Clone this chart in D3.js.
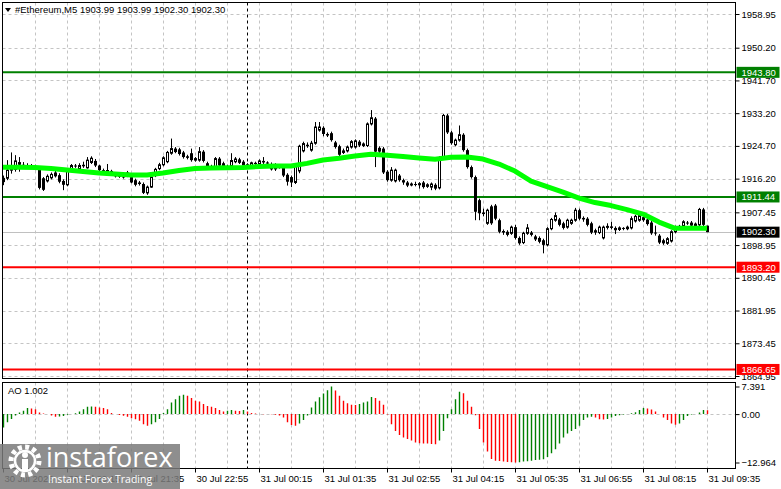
<!DOCTYPE html>
<html>
<head>
<meta charset="utf-8">
<script src="https://cdn.jsdelivr.net/npm/d3@7"></script>
<style>
  body { margin: 0; background: #fff; }
  svg { display: block; font-family: Tahoma, "Liberation Sans", Arial, sans-serif; }
</style>
</head>
<body>
<svg id="chart" width="781" height="489"></svg>
<script>
// #Ethereum M5, 177 bars, 30 Jul 18:55 .. 31 Jul 09:35

const opens = [
  1916.4,1916.3,1918.4,1918.6,1920.5,1919.8,1919.4,1919.6,1919.2,1918.6,
  1916.3,1915.6,1916.4,1917.8,1917.1,1915.6,1914.6,1918.8,1919.6,1918.6,
  1919.8,1919.0,1920.4,1920.8,1919.6,1918.4,1918.0,1918.2,1917.5,1916.8,
  1917.5,1917.8,1916.6,1915.8,1915.2,1914.8,1912.5,1914.0,1917.0,1918.8,
  1919.8,1920.6,1922.8,1924.0,1923.8,1923.0,1922.0,1922.8,1921.0,1921.0,
  1923.2,1920.2,1919.2,1919.2,1921.4,1920.2,1919.0,1919.6,1920.6,1921.2,
  1920.6,1919.6,1919.6,1920.3,1920.0,1920.8,1920.4,1920.0,1919.8,1919.2,
  1919.0,1917.2,1916.6,1915.2,1918.2,1923.4,1925.0,1923.6,1925.4,1928.8,
  1929.4,1927.8,1928.0,1925.6,1924.6,1923.0,1923.4,1924.4,1924.4,1925.8,
  1924.8,1924.8,1930.4,1931.8,1924.2,1924.0,1918.0,1915.8,1915.6,1917.0,
  1915.8,1915.2,1914.6,1914.8,1914.6,1915.2,1914.2,1914.0,1914.6,1913.8,
  1921.6,1932.6,1928.2,1925.0,1926.2,1927.6,1923.6,1919.2,1916.6,1910.6,
  1907.4,1904.6,1909.0,1909.2,1905.4,1902.6,1902.4,1902.0,1903.6,1900.8,
  1899.6,1902.0,1902.2,1901.2,1900.8,1900.2,1899.0,1903.2,1905.4,1905.6,
  1904.6,1903.6,1904.6,1905.4,1908.0,1906.0,1905.8,1904.6,1902.8,1902.2,
  1900.8,1903.6,1903.8,1903.4,1903.0,1903.4,1903.2,1903.4,1905.2,1905.4,
  1906.2,1905.6,1904.8,1902.2,1901.4,1900.2,1899.4,1900.0,1902.4,1903.6,
  1904.0,1904.8,1904.8,1903.8,1904.2,1908.2,1903.99
];
const highs = [
  1917.0,1921.0,1923.0,1922.3,1921.8,1920.5,1920.2,1920.0,1919.8,1918.8,
  1916.6,1917.3,1917.8,1918.2,1917.6,1916.0,1918.8,1920.0,1920.0,1920.2,
  1920.6,1921.8,1922.0,1921.3,1919.8,1918.8,1920.0,1918.5,1917.8,1917.6,
  1917.9,1918.2,1917.0,1916.2,1915.6,1915.2,1914.4,1917.0,1919.0,1920.3,
  1922.0,1923.4,1926.6,1924.4,1924.2,1923.4,1922.4,1924.0,1921.8,1924.4,
  1923.6,1920.6,1919.8,1921.8,1921.8,1920.6,1919.8,1922.8,1921.8,1921.6,
  1921.0,1920.2,1920.6,1920.6,1921.2,1921.8,1920.7,1920.4,1920.2,1920.0,
  1919.4,1917.6,1917.0,1920.0,1925.0,1925.8,1925.6,1926.0,1930.9,1930.9,
  1929.8,1928.2,1928.4,1926.0,1925.0,1924.0,1924.8,1926.2,1926.4,1926.2,
  1925.6,1930.8,1934.0,1932.2,1924.6,1924.4,1918.4,1919.2,1918.8,1917.4,
  1916.2,1915.6,1915.2,1915.4,1915.3,1915.6,1915.0,1915.2,1915.0,1922.0,
  1933.0,1933.0,1928.6,1926.6,1930.0,1928.0,1924.0,1919.6,1917.0,1911.0,
  1908.4,1908.4,1909.4,1909.6,1905.8,1903.0,1902.8,1904.0,1904.2,1901.2,
  1902.4,1904.4,1902.6,1901.6,1901.2,1900.6,1903.6,1906.0,1907.4,1906.0,
  1905.0,1905.8,1905.8,1908.6,1908.4,1906.4,1906.2,1905.0,1903.2,1904.0,
  1904.0,1904.6,1905.0,1903.8,1903.8,1903.6,1904.0,1906.4,1906.8,1907.0,
  1906.6,1906.0,1905.2,1904.0,1901.8,1900.6,1901.0,1902.8,1904.0,1904.2,
  1905.4,1905.2,1905.2,1904.8,1908.6,1908.6,1903.99
];
const lows = [
  1914.5,1915.8,1917.5,1918.0,1918.0,1919.0,1918.9,1918.7,1918.4,1913.4,
  1913.0,1915.2,1916.0,1916.5,1915.0,1913.2,1914.2,1918.4,1919.0,1918.3,
  1919.0,1918.8,1920.0,1919.2,1918.2,1917.6,1917.8,1917.5,1916.5,1916.4,
  1916.2,1916.6,1915.0,1914.2,1914.4,1912.2,1912.0,1913.8,1916.6,1918.4,
  1919.4,1920.2,1922.4,1922.8,1922.2,1921.4,1921.2,1920.6,1920.6,1920.6,
  1920.4,1918.8,1918.6,1918.8,1919.2,1918.6,1918.6,1919.2,1920.2,1920.0,
  1919.2,1919.2,1919.3,1919.6,1919.8,1920.0,1919.8,1918.3,1918.2,1918.8,
  1916.6,1914.4,1914.0,1914.8,1917.6,1923.0,1924.2,1923.2,1925.0,1928.4,
  1927.2,1927.0,1925.8,1924.0,1922.0,1922.6,1923.0,1924.0,1924.0,1924.4,
  1924.4,1924.4,1930.0,1919.2,1922.8,1917.4,1915.4,1915.4,1915.2,1915.4,
  1914.6,1914.0,1914.2,1914.2,1913.6,1913.6,1913.8,1913.2,1913.2,1913.4,
  1921.2,1927.8,1925.0,1924.6,1925.8,1923.2,1918.8,1916.2,1905.4,1905.4,
  1906.4,1904.2,1904.2,1905.4,1902.0,1901.6,1901.2,1901.6,1900.4,1899.0,
  1899.2,1901.6,1901.2,1900.0,1899.4,1896.8,1898.6,1902.8,1905.0,1903.8,
  1903.0,1903.2,1904.2,1905.0,1905.4,1905.0,1903.8,1901.8,1901.6,1901.8,
  1900.4,1903.0,1903.0,1901.8,1902.6,1902.8,1902.8,1903.0,1904.8,1905.0,
  1905.0,1904.0,1901.6,1901.4,1899.2,1899.0,1899.0,1899.6,1902.0,1903.2,
  1903.6,1904.2,1903.6,1903.4,1903.8,1903.8,1902.30
];
const closes = [
  1915.3,1918.4,1919.5,1920.8,1919.8,1919.4,1919.6,1919.2,1918.9,1913.8,
  1913.3,1916.8,1917.3,1916.8,1915.4,1914.6,1918.4,1919.6,1919.4,1919.6,
  1919.4,1921.0,1921.5,1919.6,1918.4,1918.0,1918.3,1917.8,1916.8,1917.2,
  1916.5,1917.0,1915.2,1914.6,1914.8,1912.5,1914.0,1916.6,1918.6,1919.8,
  1921.6,1923.0,1924.0,1923.1,1922.6,1921.8,1921.6,1921.0,1921.4,1923.2,
  1920.8,1919.2,1919.0,1921.4,1919.6,1919.0,1919.3,1920.9,1921.3,1920.3,
  1919.6,1919.8,1920.3,1920.0,1920.8,1920.4,1920.1,1918.6,1918.6,1919.6,
  1917.0,1915.4,1915.2,1919.6,1924.6,1925.3,1924.6,1925.4,1929.6,1929.6,
  1927.8,1927.4,1926.2,1924.4,1922.4,1923.4,1924.4,1925.8,1926.0,1924.8,
  1925.2,1930.4,1932.0,1923.2,1923.2,1917.8,1915.8,1918.4,1918.4,1915.8,
  1915.2,1914.4,1914.8,1914.6,1914.9,1914.0,1914.6,1914.8,1913.6,1921.6,
  1932.6,1928.2,1925.4,1926.2,1927.6,1923.6,1919.2,1916.6,1907.6,1907.2,
  1907.0,1908.0,1904.6,1905.8,1902.4,1902.2,1901.6,1903.6,1900.8,1899.4,
  1902.0,1903.4,1901.6,1900.4,1899.8,1899.0,1903.2,1905.6,1906.6,1904.2,
  1903.4,1905.4,1905.4,1908.0,1905.8,1905.6,1904.2,1902.2,1902.2,1903.6,
  1903.6,1903.8,1903.4,1902.8,1903.4,1903.2,1903.6,1905.8,1906.4,1906.6,
  1905.4,1904.4,1902.0,1902.0,1899.6,1899.4,1900.6,1902.4,1903.6,1903.8,
  1905.0,1904.6,1904.0,1904.4,1908.2,1904.2,1902.30
];

// moving average, read every 4th bar
const maIndex = d3.range(0, 177, 4);
const maValues = [
  1919.13,1919.13,1919.08,1918.82,1918.43,1918.04,1917.65,1917.39,1917.13,1917.13,
  1917.65,1918.30,1918.82,1918.95,1919.03,1919.08,1919.34,1919.47,1919.47,1920.17,
  1921.03,1921.47,1922.07,1922.51,1922.25,1921.94,1921.55,1921.21,1921.73,1921.81,
  1921.29,1919.99,1918.17,1915.57,1914.14,1912.72,1911.16,1909.99,1909.21,1908.17,
  1907.00,1904.92,1903.29,1903.29,1903.29
];

// Awesome Oscillator
const aoValues = [
  -3.6,-2.2,-1.3,-0.4,0.4,0.9,1.6,1.5,1.3,0.4,
  0.15,0.05,-0.4,-0.7,-0.65,-0.5,-0.2,0.05,0.2,0.7,
  1.3,2.0,2.05,1.95,1.8,1.6,1.3,0.3,0.0,-0.25,
  -0.45,-0.7,-1.1,-1.4,-1.8,-2.7,-3.1,-2.7,-2.2,-1.3,
  0.3,1.3,3.1,4.0,4.9,5.2,4.9,4.3,3.6,3.4,
  2.7,2.2,2.0,1.6,1.1,0.7,0.9,1.1,0.9,0.85,
  1.1,0.7,0.3,0.15,0.0,-0.05,0.0,-0.05,-0.2,-0.4,
  -0.9,-2.2,-2.9,-3.1,-2.5,-1.6,-0.4,1.8,3.4,4.5,
  5.5,6.4,7.391,6.3,4.9,3.6,2.9,2.5,2.45,2.7,
  3.1,3.4,4.6,4.3,3.6,2.5,-0.1,-2.7,-4.5,-5.6,
  -6.25,-6.7,-7.1,-7.6,-7.8,-7.85,-7.9,-8.0,-8.05,-7.1,
  -4.5,-1.1,1.3,4.0,6.0,5.6,3.6,2.0,-0.3,-4.0,
  -7.6,-10.0,-12.05,-12.5,-12.55,-12.7,-12.8,-12.9,-12.964,-12.9,
  -12.7,-12.6,-12.5,-12.3,-12.2,-12.1,-11.5,-10.5,-9.4,-7.9,
  -6.3,-5.2,-4.5,-4.0,-3.1,-1.6,-0.9,-0.7,-0.9,-1.4,
  -1.45,-1.3,-0.9,-0.5,-0.3,-0.1,0.0,0.2,0.5,1.1,
  1.6,1.5,1.25,0.7,0.0,-0.9,-1.6,-2.5,-2.85,-2.5,
  -1.6,-0.5,-0.1,0.05,0.45,1.1,1.002
];

const priceTicks = [1958.95,1950.20,1941.70,1933.20,1924.70,1916.20,1907.45,1898.95,1890.45,1881.95,1873.45,1864.95];
const aoTicks = [7.391, 0.00, -12.964];
const timeIndex = [0,16,32,48,64,80,96,112,128,144,160,176];
const timeLabels = ['30 Jul 2026','30 Jul 20:15','30 Jul 21:35','30 Jul 22:55','31 Jul 00:15','31 Jul 01:35',
                    '31 Jul 02:55','31 Jul 04:15','31 Jul 05:35','31 Jul 06:55','31 Jul 08:15','31 Jul 09:35'];
const daySplitIndex = 61;
const resistance = [1943.80, 1911.44];
const support = [1893.20, 1866.65];
const bid = 1902.30;

const svg = d3.select('#chart');
const L = 2.5, R = 735.5, mainTop = 2.5, mainBot = 378.5, aoTop = 382.5, aoBot = 468.5;
const n = closes.length;

let x = d3.scaleLinear().domain([0, n - 1]).range([3, 707]);
let y = d3.scaleLinear().domain([1864.95, 1958.95]).range([376, 14]);
let yAo = d3.scaleLinear().domain([-12.964, 7.391]).range([462.5, 386.5]);
const px = i => Math.round(x(i)) + 0.5;

const defs = svg.append('defs');
defs.append('clipPath').attr('id', 'clipMain')
  .append('rect').attr('x', L).attr('y', mainTop).attr('width', R - L).attr('height', mainBot - mainTop);
defs.append('clipPath').attr('id', 'clipAo')
  .append('rect').attr('x', L).attr('y', aoTop).attr('width', R - L).attr('height', aoBot - aoTop);

// grid
const grid = svg.append('g').attr('stroke', '#c4c4c4').attr('stroke-dasharray', '3,3');
grid.selectAll('.hg').data(priceTicks).join('line')
  .attr('x1', L).attr('x2', R)
  .attr('y1', d => Math.round(y(d)) + 0.5).attr('y2', d => Math.round(y(d)) + 0.5);
const vIdx = d3.range(8, n, 8);
grid.selectAll('.vg').data(vIdx).join('line')
  .attr('x1', d => px(d)).attr('x2', d => px(d)).attr('y1', mainTop).attr('y2', mainBot);
grid.selectAll('.vga').data(vIdx).join('line')
  .attr('x1', d => px(d)).attr('x2', d => px(d)).attr('y1', aoTop).attr('y2', aoBot);
grid.append('line').attr('x1', L).attr('x2', R)
  .attr('y1', Math.round(yAo(0)) + 0.5).attr('y2', Math.round(yAo(0)) + 0.5);

// day separator
[[mainTop, mainBot], [aoTop, aoBot]].forEach(([a, b]) => {
  svg.append('line').attr('x1', px(daySplitIndex)).attr('x2', px(daySplitIndex))
    .attr('y1', a).attr('y2', b).attr('stroke', '#000').attr('stroke-dasharray', '3,3');
});

// level lines
const main = svg.append('g').attr('clip-path', 'url(#clipMain)');
main.append('line').attr('x1', L).attr('x2', R)
  .attr('y1', Math.round(y(bid)) + 0.5).attr('y2', Math.round(y(bid)) + 0.5)
  .attr('stroke', '#c0c0c0');
resistance.concat(support).forEach(v => {
  main.append('line').attr('x1', L).attr('x2', R).attr('y1', y(v)).attr('y2', y(v))
    .attr('stroke', resistance.includes(v) ? '#008000' : '#ff0000').attr('stroke-width', 2);
});

// candles
const idx = d3.range(n);
main.selectAll('.wick').data(idx).join('line')
  .attr('x1', px).attr('x2', px)
  .attr('y1', i => y(highs[i])).attr('y2', i => y(lows[i]))
  .attr('stroke', '#000');
main.selectAll('.body').data(idx).join('rect')
  .attr('x', i => px(i) - (closes[i] >= opens[i] ? 1 : 1.5))
  .attr('width', i => closes[i] >= opens[i] ? 2 : 3)
  .attr('y', i => y(Math.max(opens[i], closes[i])))
  .attr('height', i => Math.max(1, Math.abs(y(opens[i]) - y(closes[i]))))
  .attr('fill', i => closes[i] >= opens[i] ? '#fff' : '#000')
  .attr('stroke', i => closes[i] >= opens[i] ? '#000' : 'none');

// moving average
main.append('path')
  .datum(maIndex)
  .attr('fill', 'none').attr('stroke', '#00ff00').attr('stroke-width', 5)
  .attr('stroke-linejoin', 'round')
  .attr('d', d3.line().x(i => x(i)).y((i, k) => y(maValues[k])));

// AO histogram
const ao = svg.append('g').attr('clip-path', 'url(#clipAo)');
ao.selectAll('line').data(idx).join('line')
  .attr('x1', px).attr('x2', px)
  .attr('y1', yAo(0)).attr('y2', i => yAo(aoValues[i]))
  .attr('stroke', i => (i === 0 || aoValues[i] > aoValues[i - 1]) ? '#008000' : '#ff0000')
  .attr('stroke-width', 1.4);

// frames
svg.append('rect').attr('x', L).attr('y', mainTop).attr('width', R - L).attr('height', mainBot - mainTop)
  .attr('fill', 'none').attr('stroke', '#000');
svg.append('rect').attr('x', L).attr('y', aoTop).attr('width', R - L).attr('height', aoBot - aoTop)
  .attr('fill', 'none').attr('stroke', '#000');

// price axis
const fmt = d3.format('.2f');
const yAxis = svg.append('g').attr('transform', `translate(${R},0)`)
  .call(d3.axisRight(y).tickValues(priceTicks).tickFormat(fmt).tickSize(4).tickPadding(2));
const aoAxis = svg.append('g').attr('transform', `translate(${R},0)`)
  .call(d3.axisRight(yAo).tickValues(aoTicks).tickFormat(d => d === 0 ? '0.00' : d3.format('.3f')(d)).tickSize(4).tickPadding(2));
const xAxis = svg.append('g').attr('transform', `translate(0,${aoBot})`)
  .call(d3.axisBottom(x).tickValues(timeIndex).tickFormat((d, k) => timeLabels[k]).tickSize(4).tickPadding(3));
[yAxis, aoAxis, xAxis].forEach(g => {
  g.select('.domain').remove();
  g.selectAll('text').attr('fill', '#000').style('font-size', '9.5px')
    .style('font-family', 'Tahoma, "Liberation Sans", Arial, sans-serif');
  g.selectAll('line').attr('stroke', '#000');
});
xAxis.selectAll('.tick').attr('transform', d => `translate(${px(d)},0)`);
xAxis.selectAll('text').attr('text-anchor', 'start').attr('x', 1);

// level tags on the price axis
function tag(v, bg) {
  const g = svg.append('g').attr('transform', `translate(${R + 1},${y(v)})`);
  g.append('rect').attr('x', 0).attr('y', -5.5).attr('width', 43).attr('height', 11).attr('fill', bg);
  g.append('text').attr('x', 5).attr('dy', '0.35em').attr('fill', '#fff')
    .style('font-size', '9.5px').text(fmt(v));
}
resistance.forEach(v => tag(v, '#008000'));
support.forEach(v => tag(v, '#ff0000'));
tag(bid, '#000');

// titles
svg.append('path').attr('d', 'M5,8 L11,8 L8,12 Z').attr('fill', '#000');
svg.append('text').attr('x', 15).attr('y', 13).style('font-size', '9.5px')
  .text('#Ethereum,M5  1903.99 1903.99 1902.30 1902.30');
svg.append('text').attr('x', 8).attr('y', 394).style('font-size', '9.5px').text('AO 1.002');

// watermark
const wm = svg.append('g');
wm.append('rect').attr('x', 0).attr('y', 444).attr('width', 180).attr('height', 45)
  .attr('fill', '#7a7a7a').attr('opacity', 0.85);
wm.append('circle').attr('cx', 25).attr('cy', 461).attr('r', 14)
  .attr('fill', 'none').attr('stroke', '#fff').attr('stroke-width', 5).attr('stroke-dasharray', '4,3.3');
wm.append('circle').attr('cx', 25).attr('cy', 461).attr('r', 10)
  .attr('fill', 'none').attr('stroke', '#fff').attr('stroke-width', 2.5);
wm.append('circle').attr('cx', 25).attr('cy', 455).attr('r', 3).attr('fill', '#fff');
wm.append('rect').attr('x', 22).attr('y', 459).attr('width', 6).attr('height', 12).attr('fill', '#fff');
wm.append('text').attr('x', 46).attr('y', 467).attr('fill', '#fff')
  .style('font-family', '"Open Sans", sans-serif').style('font-size', '27px').text('instaforex');
wm.append('text').attr('x', 48).attr('y', 483).attr('fill', '#fff')
  .style('font-family', '"Open Sans", sans-serif').style('font-size', '10.5px').text('Instant Forex Trading');
</script>
</body>
</html>
